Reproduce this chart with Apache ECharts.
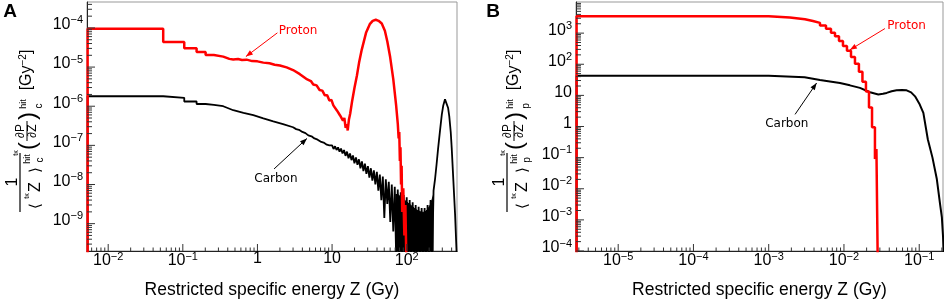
<!DOCTYPE html>
<html>
<head>
<meta charset="utf-8">
<script src="https://cdn.jsdelivr.net/npm/echarts@6/dist/echarts.min.js"></script>
<style>
html, body { margin: 0; padding: 0; background: #fff; }
#chart { width: 948px; height: 304px; }
</style>
</head>
<body>
<div id="chart"></div>
<script>
// ---- data ----
// panel A: restricted specific energy, [Z (Gy), 1/<Z> dP/dZ (Gy^-2)]
const protonA = [
  [0.0053, 1e-10], [0.0053, 9.6e-5], [0.0546, 9.6e-5], [0.0546, 4.4e-5], [0.1045, 4.4e-5], [0.1045, 3.05e-5],
  [0.153, 3.05e-5], [0.153, 2.42e-5], [0.202, 2.42e-5], [0.202, 2.03e-5], [0.261, 2.03e-5], [0.261, 1.85e-5],
  [0.348, 1.85e-5], [0.348, 1.68e-5], [0.42, 1.62e-5], [0.474, 1.56e-5], [0.55, 1.6e-5], [0.62, 1.52e-5],
  [0.716, 1.55e-5], [0.85, 1.42e-5], [1.0, 1.4e-5], [1.2, 1.3e-5], [1.45, 1.25e-5], [1.7, 1.15e-5],
  [2.0, 1.1e-5], [2.46, 9.8e-6], [3.0, 8.4e-6], [3.7, 6.6e-6], [4.5, 5.0e-6], [5.2, 4.4e-6], [5.6, 3.6e-6],
  [6.2, 3.4e-6], [6.8, 2.6e-6], [7.4, 2.5e-6], [8.0, 1.9e-6], [8.6, 1.9e-6], [9.2, 1.4e-6], [9.8, 1.45e-6],
  [10.4, 1.05e-6], [11, 1.1e-6], [11.6, 7.8e-7], [12.2, 8.5e-7], [12.8, 5.8e-7], [13.4, 6.5e-7], [14, 4.3e-7],
  [14.6, 5e-7], [15.2, 2.8e-7], [15.8, 3.5e-7], [16.2, 2.4e-7], [16.8, 4.5e-7], [17.5, 6.5e-7], [18.5, 1.3e-6],
  [20, 3e-6], [21.5, 6e-6], [23, 1.3e-5], [25, 2.8e-5], [28.5, 7.5e-5], [32, 1.25e-4], [35, 1.52e-4],
  [38.5, 1.62e-4], [42, 1.52e-4], [46.3, 1.3e-4], [51, 8.5e-5], [55, 4.5e-5], [60, 1.8e-5], [66, 5e-6],
  [72, 1.1e-6], [76, 3.5e-7], [78, 1.5e-7], [79.5, 2.2e-7], [81, 4e-8], [82.5, 9e-8], [84, 1e-8], [85.5, 3e-8],
  [87, 2e-9], [90, 8e-9], [93, 5e-10], [96, 3e-9], [99, 1e-10]
];
const carbonA = [
  [0.0053, 1e-10], [0.0053, 1.8e-6], [0.0546, 1.8e-6], [0.0546, 1.64e-6], [0.1045, 1.64e-6], [0.1045, 1.32e-6],
  [0.153, 1.32e-6], [0.153, 1.14e-6], [0.202, 1.14e-6], [0.202, 1.08e-6], [0.261, 1.08e-6], [0.261, 1.0e-6],
  [0.348, 1.0e-6], [0.348, 9.0e-7], [0.474, 7.9e-7], [0.65, 6.8e-7], [0.88, 5.9e-7], [1.2, 4.9e-7],
  [1.63, 4.1e-7], [2.2, 3.5e-7], [3.0, 2.9e-7], [3.3, 2.6e-7], [3.6, 2.5e-7], [4.0, 2.2e-7], [4.4, 2.05e-7],
  [4.8, 1.8e-7], [5.3, 1.7e-7], [5.8, 1.5e-7], [6.4, 1.4e-7], [7.0, 1.25e-7], [7.7, 1.18e-7], [8.5, 1.04e-7],
  [9.2, 1.0e-7], [10.0, 1.0e-7], [10.47, 8.1e-8], [10.96, 9.5e-8], [11.48, 7.6e-8], [12.02, 8.9e-8],
  [12.59, 6.9e-8], [13.18, 8.3e-8], [13.8, 6.2e-8], [14.45, 7.6e-8], [15.14, 5.4e-8], [15.85, 6.9e-8],
  [16.6, 4.7e-8], [17.38, 6.2e-8], [18.2, 4.2e-8], [19.05, 5.5e-8], [19.95, 3.5e-8], [20.89, 4.9e-8],
  [21.88, 3.2e-8], [22.91, 4.4e-8], [23.99, 2.6e-8], [25.12, 3.9e-8], [26.3, 2.2e-8], [27.54, 3.4e-8],
  [28.84, 1.86e-8], [30.2, 2.95e-8], [31.62, 1.5e-8], [33.11, 2.6e-8], [34.67, 1.26e-8], [36.31, 2.3e-8],
  [38.02, 1e-8], [39.81, 2.1e-8], [41.69, 7e-9], [43.65, 1.8e-8], [45.71, 4e-9], [47.86, 1.6e-8],
  [50.12, 1.4e-9], [52.48, 1.35e-8], [54.95, 3.2e-9], [57.54, 1.17e-8], [60.26, 1.1e-9], [63.1, 1e-8],
  [66.07, 6.3e-10], [69.18, 8.7e-9], [72.44, 1e-10], [75.86, 7.4e-9], [79.43, 1e-10], [83.18, 6.3e-9],
  [87.1, 1e-10], [91.2, 5.4e-9], [95.5, 1e-10], [100, 4.7e-9], [104.7, 1e-10], [109.6, 4e-9], [114.8, 1e-10],
  [120.2, 3.5e-9], [125.9, 1e-10], [131.8, 3e-9], [138, 1e-10], [144.5, 2.7e-9], [151.4, 1e-10],
  [158.5, 2.5e-9], [166, 1e-10], [173.8, 2.5e-9], [182, 1e-10], [190.5, 3e-9], [199.5, 1e-10], [208.9, 4e-9],
  [218.8, 1e-10], [229, 7e-9], [240, 1.4e-8], [251, 3.2e-8], [263, 8e-8], [279, 2.3e-7], [295, 6e-7],
  [309, 1.05e-6], [326, 1.5e-6], [343, 1.35e-6], [359, 9e-7], [372, 5.5e-7], [389, 2.2e-7], [401, 8.5e-8],
  [422, 1.25e-8], [445, 1.7e-9], [468, 1.5e-10]
];
// lower edge of the ragged top of the carbon noise band, where the band is solid down to the axis
const carbonBandA = [
  [70.5, 5.5e-9], [75.86, 5.6e-9], [83.18, 4.8e-9], [91.2, 4.1e-9], [100, 3.6e-9], [109.6, 3.1e-9],
  [120.2, 2.7e-9], [131.8, 2.3e-9], [144.5, 2.1e-9], [158.5, 1.95e-9], [173.8, 1.95e-9], [190.5, 2.3e-9],
  [208.9, 3.1e-9], [229, 5.5e-9]
];
// panel B: [Z (Gy), 1/<Z>p dP/dZ (Gy^-2)]
const protonB = [
  [2.8e-6, 1e-5], [2.8e-6, 3500], [1e-3, 3160], [1.91e-3, 2790], [3.03e-3, 2450], [3.87e-3, 2140],
  [4.8e-3, 1760], [5.77e-3, 1380], [6.72e-3, 1020], [7.6e-3, 800], [8.59e-3, 560], [9.7e-3, 385],
  [1.096e-2, 270], [1.24e-2, 172], [1.4e-2, 103], [1.58e-2, 57], [1.76e-2, 27.5], [1.96e-2, 13.2],
  [2.15e-2, 4.1], [2.36e-2, 0.94], [2.58e-2, 0.09], [2.7e-2, 0.19], [2.83e-2, 1e-5]
];
const carbonB = [
  [2.8e-6, 1e-5], [2.8e-6, 42.5], [1e-3, 42.5], [1e-3, 38], [3.0e-3, 38], [3.0e-3, 34.5], [4.8e-3, 31],
  [6.5e-3, 28], [8.85e-3, 25], [1.2e-2, 21], [1.63e-2, 17.4], [2.22e-2, 12.6], [2.86e-2, 10.7],
  [3.3e-2, 11.2], [3.69e-2, 12], [4.3e-2, 13.5], [5.0e-2, 14.5], [5.9e-2, 14.8], [6.8e-2, 14.5],
  [7.8e-2, 12.5], [8.8e-2, 9.3], [0.1, 5.5], [0.1135, 2.75], [0.13, 0.39], [0.15, 0.1], [0.171, 0.021],
  [0.19, 3e-3], [0.2, 1.2e-3], [0.207, 3e-4], [0.22, 1e-5]
];
// axis ranges and decade labels
const xRangeA = [5.2e-3, 472];
const yRangeA = [2.0e-10, 4.6e-4];
const xRangeB = [2.75e-6, 0.207];
const yRangeB = [1e-4, 1e4];
const xTicksA = [0.01, 0.1, 1, 10, 100];
const yTicksA = [1e-9, 1e-8, 1e-7, 1e-6, 1e-5, 1e-4];
const xTicksB = [1e-5, 1e-4, 1e-3, 1e-2, 1e-1];
const yTicksB = [1e-4, 1e-3, 1e-2, 1e-1, 1, 10, 100, 1000];
// annotation anchors (data coords): text, arrow start, arrow end
const notesA = [
  { text: 'Proton', color: '#ff0000', at: [3.5, 8.2e-5], from: [1.85, 7.5e-5], to: [0.70, 1.85e-5] },
  { text: 'Carbon', color: '#000', at: [1.77, 1.4e-8], from: [1.67, 2.5e-8], to: [4.6, 1.5e-7] }
];
const notesB = [
  { text: 'Proton', color: '#ff0000', at: [0.068, 1700], from: [0.035, 1400], to: [0.012, 290] },
  { text: 'Carbon', color: '#000', at: [1.74e-3, 1.26], from: [2.24e-3, 2.45], to: [4.33e-3, 25] }
];

const FONT = 'Liberation Sans, Arial, Helvetica, sans-serif';

function expText(v) {
  const e = Math.round(Math.log10(v));
  if (e === 0) return '1';
  if (e === 1) return '10';
  return '10{s|' + (e < 0 ? '\u2212' + (-e) : e) + '}';
}
const richSup = { s: { fontSize: 11, fontFamily: FONT, fill: '#000', verticalAlign: 'bottom', padding: [0, 0, 9, 0] } };

function minorTicks(lo, hi) {
  const out = [];
  for (let k = Math.floor(Math.log10(lo)); k <= Math.ceil(Math.log10(hi)); k++) {
    for (let m = 2; m <= 9; m++) {
      const v = m * Math.pow(10, k);
      if (v > lo && v < hi) out.push(v);
    }
  }
  return out;
}

function tickSeries(gi, xr, yr, xt, yt) {
  const xData = xt.map(v => [v, yr[0], 1]).concat(minorTicks(xr[0], xr[1]).map(v => [v, yr[0], 0]));
  const yData = yt.map(v => [xr[0], v, 1]).concat(minorTicks(yr[0], yr[1]).map(v => [xr[0], v, 0]));
  return [{
    type: 'custom', xAxisIndex: gi, yAxisIndex: gi, silent: true, z: 5, data: xData,
    renderItem: (params, api) => {
      const p = api.coord([api.value(0), api.value(1)]);
      const major = api.value(2) === 1;
      const kids = [{ type: 'line', shape: { x1: p[0], y1: p[1], x2: p[0], y2: p[1] - (major ? 7 : 3.5) },
        style: { stroke: '#333', lineWidth: 1 } }];
      if (major) kids.push({ type: 'text', x: p[0], y: p[1],
        style: { text: expText(api.value(0)), rich: richSup, fontSize: 16, fontFamily: FONT, fill: '#000',
          align: 'center', verticalAlign: 'top' } });
      return { type: 'group', children: kids };
    }
  }, {
    type: 'custom', xAxisIndex: gi, yAxisIndex: gi, silent: true, z: 5, data: yData,
    renderItem: (params, api) => {
      const p = api.coord([api.value(0), api.value(1)]);
      const major = api.value(2) === 1;
      const kids = [{ type: 'line', shape: { x1: p[0], y1: p[1], x2: p[0] + (major ? 8 : 5), y2: p[1] },
        style: { stroke: '#333', lineWidth: 1 } }];
      if (major) kids.push({ type: 'text', x: p[0] - 4, y: p[1] - 3,
        style: { text: expText(api.value(1)), rich: richSup, fontSize: 16, fontFamily: FONT, fill: '#000',
          align: 'right', verticalAlign: 'middle' } });
      return { type: 'group', children: kids };
    }
  }];
}

function lineSeries(gi, data, color, width, step) {
  return { type: 'line', xAxisIndex: gi, yAxisIndex: gi, data: data, step: step || false,
    showSymbol: false, symbol: 'none', clip: true, z: 3,
    lineStyle: { color: color, width: width }, animation: false };
}

function axisX(gi, r) {
  return { type: 'log', gridIndex: gi, min: r[0], max: r[1],
    name: 'Restricted specific energy Z (Gy)', nameLocation: 'middle', nameGap: 30,
    nameTextStyle: { fontSize: 17.5, fontFamily: FONT, color: '#000' },
    axisLine: { show: true, lineStyle: { color: '#222', width: 1 } },
    axisTick: { show: false }, axisLabel: { show: false }, splitLine: { show: false }, minorTick: { show: false } };
}
function axisY(gi, r) {
  return { type: 'log', gridIndex: gi, min: r[0], max: r[1],
    axisLine: { show: true, lineStyle: { color: '#222', width: 1 } },
    axisTick: { show: false }, axisLabel: { show: false }, splitLine: { show: false } };
}

const bandSeries = lineSeries(0, carbonBandA, '#000', 1);
bandSeries.areaStyle = { color: '#000', opacity: 1, origin: 'start' };

const chart = echarts.init(document.getElementById('chart'), null, { renderer: 'canvas' });
chart.setOption({
  animation: false,
  backgroundColor: '#fff',
  grid: [
    { left: 87, top: 2, width: 370, height: 252, show: true, borderColor: '#999', borderWidth: 1 },
    { left: 576, top: 2, width: 367, height: 252, show: true, borderColor: '#999', borderWidth: 1 }
  ],
  xAxis: [axisX(0, xRangeA), axisX(1, xRangeB)],
  yAxis: [axisY(0, yRangeA), axisY(1, yRangeB)],
  series: [
    bandSeries,
    lineSeries(0, carbonA, '#000', 1.8),
    lineSeries(0, protonA, '#ff0000', 2.5),
    lineSeries(1, carbonB, '#000', 2),
    lineSeries(1, protonB, '#ff0000', 2.5, 'end')
  ].concat(tickSeries(0, xRangeA, yRangeA, xTicksA, yTicksA))
   .concat(tickSeries(1, xRangeB, yRangeB, xTicksB, yTicksB))
});

// rotated y-axis titles built from pieces, plus annotations
function rt(text, x, y, size, extra) {
  return Object.assign({ type: 'text', x: x, y: y, rotation: Math.PI / 2, silent: true,
    style: Object.assign({ text: text, fontSize: size, fontFamily: FONT, fill: '#000',
      align: 'center', verticalAlign: 'middle' }, extra || {}) });
}
function yTitle(dx, sub) {
  const g = [];
  g.push(rt('[Gy{s|\u22122}]', dx + 27, 70, 16, { rich: { s: { fontSize: 10, fontFamily: FONT, verticalAlign: 'bottom', padding: [0, 0, 8, 0] } } }));
  g.push(rt(')', dx + 28, 116, 24));
  g.push(rt('hit', dx + 24, 104, 9));
  g.push(rt(sub, dx + 39, 106, 10));
  g.push(rt('\u2202P', dx + 21, 131, 12));
  g.push(rt('\u2202Z', dx + 33, 131, 12));
  g.push({ type: 'line', silent: true, shape: { x1: dx + 27, y1: 121, x2: dx + 27, y2: 141 }, style: { stroke: '#000', lineWidth: 1 } });
  g.push(rt('(', dx + 28, 146, 24));
  g.push(rt('t\u03ba', dx + 16, 153, 7));
  g.push({ type: 'line', silent: true, shape: { x1: dx + 20, y1: 153, x2: dx + 20, y2: 212 }, style: { stroke: '#000', lineWidth: 1.2 } });
  g.push(rt('1', dx + 13, 182, 16));
  g.push(rt('\u27e8', dx + 36, 206, 15, { fontFamily: 'DejaVu Sans' }));
  g.push(rt('t\u03ba', dx + 27, 196, 7));
  g.push(rt('Z', dx + 36, 187, 16));
  g.push(rt('\u27e9', dx + 36, 170, 15, { fontFamily: 'DejaVu Sans' }));
  g.push(rt('hit', dx + 28, 159, 9));
  g.push(rt(sub, dx + 40, 160, 10));
  return g;
}

const graphics = [
  { type: 'text', x: 10, y: 12, silent: true, style: { text: 'A', fontSize: 19, fontWeight: 'bold', fontFamily: FONT, fill: '#000', align: 'center', verticalAlign: 'middle' } },
  { type: 'text', x: 493, y: 12, silent: true, style: { text: 'B', fontSize: 19, fontWeight: 'bold', fontFamily: FONT, fill: '#000', align: 'center', verticalAlign: 'middle' } }
].concat(yTitle(0, 'c')).concat(yTitle(487, 'p'));

function addNotes(notes, gi) {
  notes.forEach(n => {
    const t = chart.convertToPixel({ gridIndex: gi }, n.at);
    const a = chart.convertToPixel({ gridIndex: gi }, n.from);
    const b = chart.convertToPixel({ gridIndex: gi }, n.to);
    graphics.push({ type: 'text', x: t[0], y: t[1], silent: true,
      style: { text: n.text, fontSize: 12, fontFamily: 'DejaVu Sans, sans-serif', fill: n.color, align: 'center', verticalAlign: 'middle' } });
    graphics.push({ type: 'line', silent: true, shape: { x1: a[0], y1: a[1], x2: b[0], y2: b[1] },
      style: { stroke: n.color, lineWidth: 1 } });
    const ang = Math.atan2(b[1] - a[1], b[0] - a[0]);
    const L = 7, W = 2.6;
    const bx = b[0] - L * Math.cos(ang), by = b[1] - L * Math.sin(ang);
    graphics.push({ type: 'polygon', silent: true, shape: { points: [
      [b[0], b[1]],
      [bx + W * Math.sin(ang), by - W * Math.cos(ang)],
      [bx - W * Math.sin(ang), by + W * Math.cos(ang)]
    ] }, style: { fill: n.color } });
  });
}
addNotes(notesA, 0);
addNotes(notesB, 1);
chart.setOption({ graphic: graphics });
</script>
</body>
</html>
